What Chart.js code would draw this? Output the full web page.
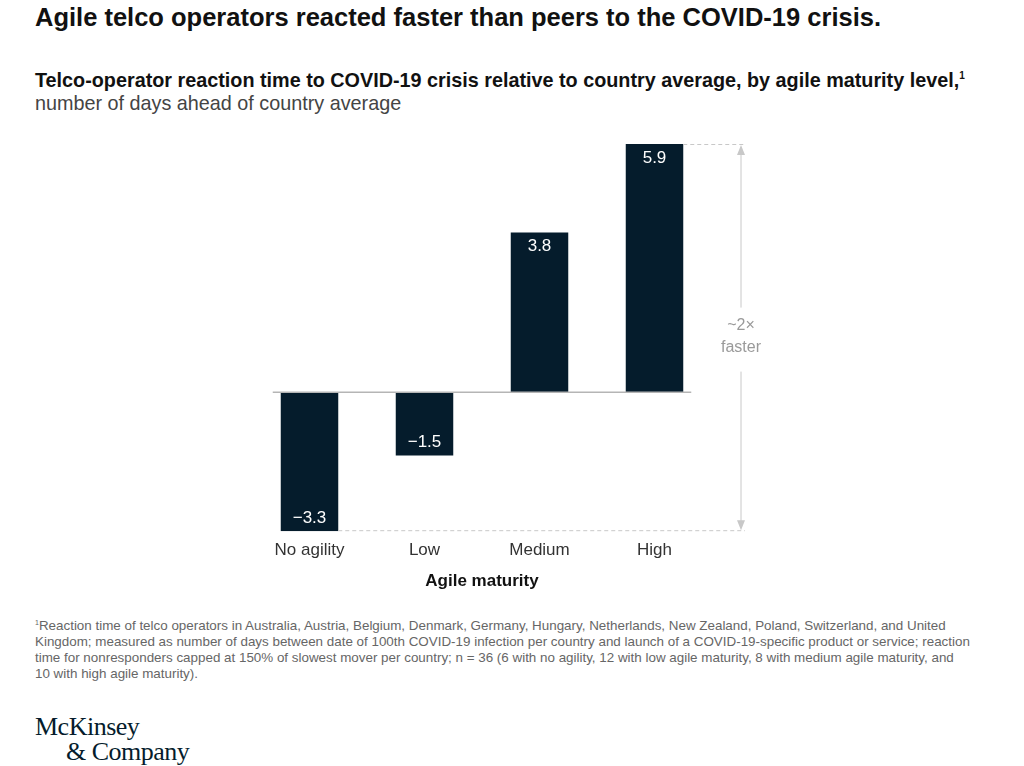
<!DOCTYPE html>
<html>
<head>
<meta charset="utf-8">
<script src="https://cdn.jsdelivr.net/npm/chart.js@4.4.1/dist/chart.umd.min.js"></script>
<style>
  html, body { margin: 0; padding: 0; background: #fff; }
  body { width: 1024px; height: 766px; position: relative; overflow: hidden; font-family: "Liberation Sans", Arial, sans-serif; color: #111; }
  .title { position: absolute; left: 35px; top: 3px; font-size: 25.5px; font-weight: bold; }
  .sub { position: absolute; left: 35px; top: 64px; font-size: 19.8px; line-height: 23px; }
  .sub b { color: #111; }
  .sub span { color: #444; }
  .sub sup { font-size: 10px; }
  #wrap { position: absolute; left: 0; top: 120px; width: 1024px; height: 480px; }
  .note { position: absolute; left: 35px; top: 615px; width: 989px; font-size: 13.4px; line-height: 15.7px; color: #666; white-space: nowrap; }
  .note sup { font-size: 7px; }
  .logo { position: absolute; left: 35px; top: 714px; font-family: "Liberation Serif", "DejaVu Serif", serif; font-size: 26px; line-height: 25px; color: #051c2c; letter-spacing: -0.5px; }
  .logo div + div { padding-left: 31px; }
</style>
</head>
<body>
<div class="title">Agile telco operators reacted faster than peers to the COVID-19 crisis.</div>
<div class="sub"><b>Telco-operator reaction time to COVID-19 crisis relative to country average, by agile maturity level,<sup>1</sup></b><br><span>number of days ahead of country average</span></div>
<div id="wrap"><canvas id="chart"></canvas></div>
<div class="note"><sup>1</sup>Reaction time of telco operators in Australia, Austria, Belgium, Denmark, Germany, Hungary, Netherlands, New Zealand, Poland, Switzerland, and United<br>Kingdom; measured as number of days between date of 100th COVID-19 infection per country and launch of a COVID-19-specific product or service; reaction<br>time for nonresponders capped at 150% of slowest mover per country; n = 36 (6 with no agility, 12 with low agile maturity, 8 with medium agile maturity, and<br>10 with high agile maturity).</div>
<div class="logo"><div>McKinsey</div><div>&amp; Company</div></div>
<script>
const categories = ["No agility", "Low", "Medium", "High"];
const daysAhead = [-3.3, -1.5, 3.8, 5.9];
const valueLabels = ["\u22123.3", "\u22121.5", "3.8", "5.9"];
const axisTitle = "Agile maturity";
const noteLines = ["~2\u00d7", "faster"];

const BAR = "#051c2c";
const GREY = "#c8c8c8";

// zero line, values inside bars, and the ~2x range marker
const extras = {
  id: "extras",
  afterDatasetsDraw(chart) {
    const { ctx, chartArea, scales } = chart;
    const bars = chart.getDatasetMeta(0).data;
    const y0 = scales.y.getPixelForValue(0);

    ctx.save();
    // zero line
    const first = bars[0], last = bars[bars.length - 1];
    ctx.strokeStyle = "#b5b5b5";
    ctx.lineWidth = 1.5;
    ctx.beginPath();
    ctx.moveTo(first.x - first.width / 2 - 8, y0);
    ctx.lineTo(last.x + last.width / 2 + 8, y0);
    ctx.stroke();

    // value labels
    ctx.fillStyle = "#fff";
    ctx.font = "17px 'Liberation Sans', Arial, sans-serif";
    ctx.textAlign = "center";
    ctx.textBaseline = "middle";
    bars.forEach((b, i) => {
      const v = daysAhead[i];
      const y = v >= 0 ? b.y + 14 : b.y - 13;
      ctx.fillText(valueLabels[i], b.x, y);
    });

    // range marker between lowest and highest bar
    let hi = 0, lo = 0;
    daysAhead.forEach((v, i) => { if (v > daysAhead[hi]) hi = i; if (v < daysAhead[lo]) lo = i; });
    const yTop = scales.y.getPixelForValue(daysAhead[hi]);
    const yBot = scales.y.getPixelForValue(daysAhead[lo]);
    const ax = chartArea.right + 29;
    ctx.strokeStyle = GREY;
    ctx.lineWidth = 1;
    ctx.setLineDash([4, 3]);
    ctx.beginPath();
    ctx.moveTo(bars[hi].x + bars[hi].width / 2, yTop + 0.5);
    ctx.lineTo(ax + 4, yTop + 0.5);
    ctx.moveTo(bars[lo].x + bars[lo].width / 2, yBot - 0.5);
    ctx.lineTo(ax + 4, yBot - 0.5);
    ctx.stroke();
    ctx.setLineDash([]);

    const midY = (yTop + yBot) / 2;
    ctx.beginPath();
    ctx.moveTo(ax, yTop + 6);
    ctx.lineTo(ax, midY - 30);
    ctx.moveTo(ax, midY + 34);
    ctx.lineTo(ax, yBot - 6);
    ctx.stroke();
    ctx.fillStyle = GREY;
    ctx.beginPath();
    ctx.moveTo(ax, yTop + 1); ctx.lineTo(ax - 4, yTop + 11); ctx.lineTo(ax + 4, yTop + 11); ctx.closePath();
    ctx.moveTo(ax, yBot - 1); ctx.lineTo(ax - 4, yBot - 11); ctx.lineTo(ax + 4, yBot - 11); ctx.closePath();
    ctx.fill();

    ctx.fillStyle = "#9a9a9a";
    ctx.font = "16px 'Liberation Sans', Arial, sans-serif";
    ctx.fillText(noteLines[0], ax, midY - 12);
    ctx.fillText(noteLines[1], ax, midY + 10);
    ctx.restore();
  }
};

new Chart(document.getElementById("chart"), {
  type: "bar",
  data: {
    labels: categories,
    datasets: [{
      data: daysAhead,
      backgroundColor: BAR,
      borderWidth: 0,
      barPercentage: 0.5,
      categoryPercentage: 1.0,
    }],
  },
  options: {
    responsive: true,
    maintainAspectRatio: false,
    animation: false,
    layout: { padding: { left: 252, right: 312, top: 24, bottom: 8 } },
    plugins: { legend: { display: false }, tooltip: { enabled: false } },
    scales: {
      y: { display: false, min: -3.3, max: 5.9 },
      x: {
        grid: { display: false },
        border: { display: false },
        ticks: { color: "#333", font: { size: 17, family: "'Liberation Sans', Arial, sans-serif" }, padding: 1 },
        title: { display: true, text: axisTitle, color: "#111", font: { size: 17, weight: "bold", family: "'Liberation Sans', Arial, sans-serif" }, padding: { top: 10, bottom: 0 } },
      },
    },
  },
  plugins: [extras],
});
</script>
</body>
</html>
